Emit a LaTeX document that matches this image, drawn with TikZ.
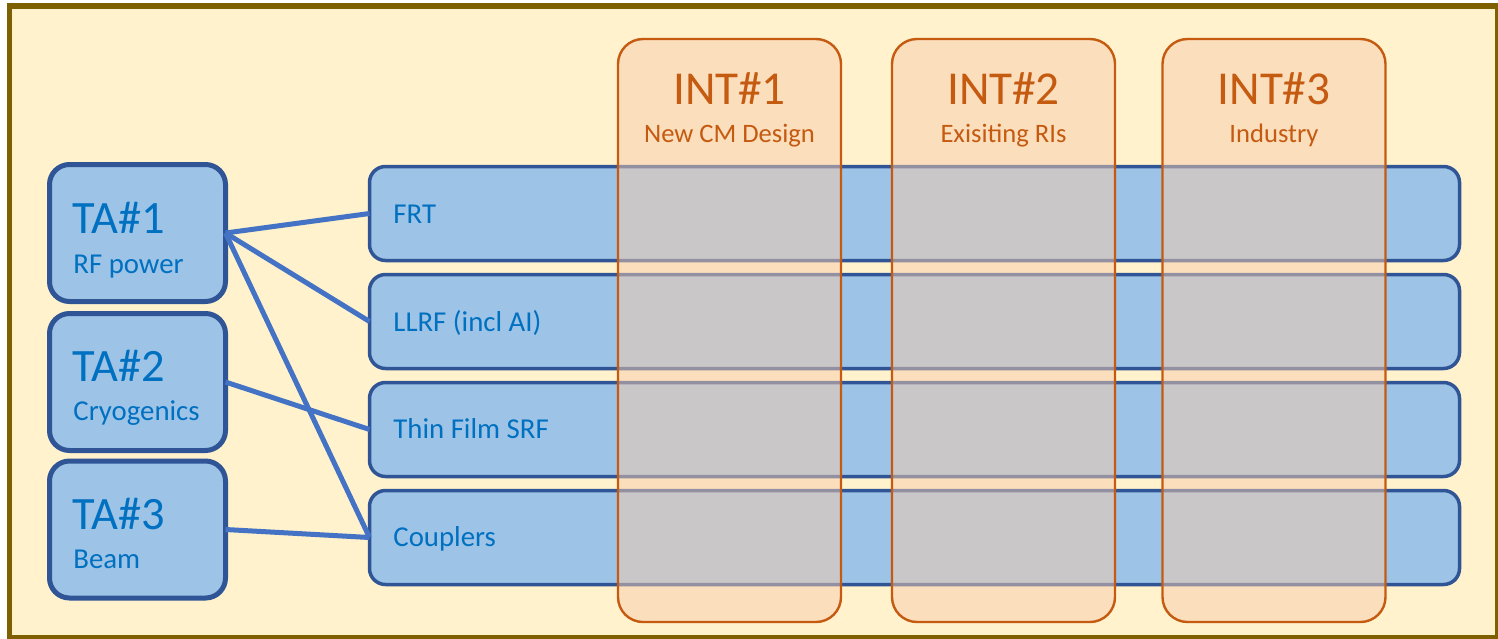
\documentclass[tikz,border=0pt]{standalone}
\usepackage{fontspec}
\setmainfont{Carlito}
\definecolor{bgcream}{HTML}{FFF2CC}
\definecolor{framegold}{HTML}{7F6000}
\definecolor{rowfill}{HTML}{9DC3E6}
\definecolor{rowedge}{HTML}{2F5597}
\definecolor{bluetext}{HTML}{0070C0}
\definecolor{connblue}{HTML}{4472C4}
\definecolor{intfill}{HTML}{F8CBAD}
\definecolor{intedge}{HTML}{C55A11}
\begin{document}
\begin{tikzpicture}[x=0.5pt,y=-0.5pt,
  tabox/.style={draw=rowedge,fill=rowfill,line width=2.5pt,rounded corners=10pt,
    minimum width=88pt,minimum height=68.5pt,inner sep=0pt,outer sep=0pt},
  rowbox/.style={draw=rowedge,fill=rowfill,line width=1.75pt,rounded corners=8pt,
    minimum width=545pt,minimum height=47pt,inner sep=0pt,outer sep=0pt},
  intbox/.style={draw=intedge,line width=1.2pt,fill=intfill,fill opacity=0.5,draw opacity=1,
    rounded corners=12.5pt,minimum width=111.5pt,minimum height=291.5pt,inner sep=0pt,outer sep=0pt},
  bigtxt/.style={anchor=base west,inner sep=0pt,text=bluetext,font=\fontsize{23.2pt}{27pt}\selectfont},
  subtxt/.style={anchor=base west,inner sep=0pt,text=bluetext,font=\fontsize{14.4pt}{17pt}\selectfont},
  rowtxt/.style={anchor=base west,inner sep=0pt,text=bluetext,font=\fontsize{14.4pt}{17pt}\selectfont},
  intbig/.style={anchor=base,inner sep=0pt,text=intedge,font=\fontsize{23.6pt}{27pt}\selectfont},
  intsub/.style={anchor=base,inner sep=0pt,text=intedge,font=\fontsize{13.3pt}{16pt}\selectfont},
  conn/.style={draw=connblue,line width=2.5pt}]
\useasboundingbox (0,0) rectangle (1498,638);
\clip (0,0) rectangle (1498,638);
\draw[draw=framegold,fill=bgcream,line width=2.75pt] (9.5,6) rectangle (1497.5,637.5);

% TA boxes
\node[tabox] (ta1) at (137.5,233) {};
\node[tabox] (ta2) at (137.5,382) {};
\node[tabox] (ta3) at (137.5,529.5) {};
\node[bigtxt] (ta1t) at (72,233) {TA\#1};
\node[subtxt] (ta1s) at (73,273) {RF power};
\node[bigtxt] (ta2t) at (72,381) {TA\#2};
\node[subtxt] (ta2s) at (73,420) {Cryogenics};
\node[bigtxt] (ta3t) at (72,529) {TA\#3};
\node[subtxt] (ta3s) at (73,568) {Beam};

% Rows
\node[rowbox] (frt) at (914.5,213.5) {};
\node[rowbox] (llrf) at (914.5,321.5) {};
\node[rowbox] (thin) at (914.5,429.5) {};
\node[rowbox] (coup) at (914.5,537.5) {};
\node[rowtxt] (frtt) at (393,223) {FRT};
\node[rowtxt] (llrft) at (393,331) {LLRF (incl AI)};
\node[rowtxt] (thint) at (393,438) {Thin Film SRF};
\node[rowtxt] (coupt) at (393,546) {Couplers};

% Connectors
\draw[conn] (ta1.east) -- (frt.west);
\draw[conn] (ta1.east) -- (llrf.west);
\draw[conn] (ta1.east) -- (coup.west);
\draw[conn] (ta2.east) -- (thin.west);
\draw[conn] (ta3.east) -- (coup.west);

% INT columns
\node[intbox] (int1) at (729.5,330.5) {};
\node[intbox] (int2) at (1003.5,330.5) {};
\node[intbox] (int3) at (1274,330.5) {};
\node[intbig] (int1t) at (729.5,104) {INT\#1};
\node[intsub] (int1s) at (729.5,142) {New CM Design};
\node[intbig] (int2t) at (1003.5,104) {INT\#2};
\node[intsub] (int2s) at (1003.5,142) {Exisiting RIs};
\node[intbig] (int3t) at (1274,104) {INT\#3};
\node[intsub] (int3s) at (1274,142) {Industry};
\end{tikzpicture}
\end{document}
